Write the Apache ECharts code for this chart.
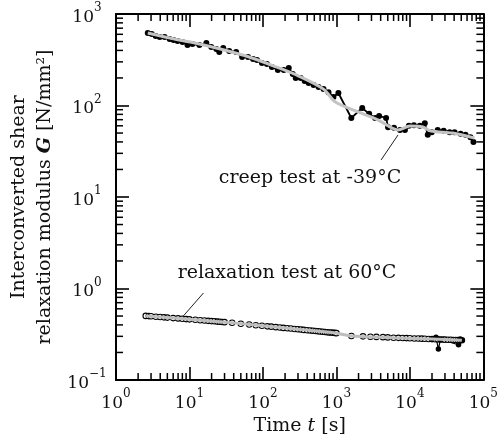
<!DOCTYPE html>
<html>
<head>
<meta charset="utf-8">
<script src="https://cdn.jsdelivr.net/npm/echarts@6/dist/echarts.min.js"></script>
<style>html,body{margin:0;padding:0;background:#fff}#c{width:501px;height:446px}</style>
</head>
<body>
<div id="c"></div>
<script>
// ---- data ----
const creepT = [2.707,3.066,3.472,3.932,4.594,5.366,6.077,6.883,8.043,9.397,10.98,13.65,16.97,19.83,23.17,25.43,28.81,34.72,43.16,52.04,62.7,73.3,82.97,96.9,113.3,132.3,159.5,192.2,224.6,254.3,279.2,326.2,369.5,418.4,489,571.3,667.4,779.7,910.9,1064,1595,2246,2792,3365,3812,4741,5045,6077,7328,8560,9694,11330,13650,15950,17510,19830,23900,28810,34720,40560,48900,57130,66740,73280];
const creepG = [620,604,575,561,561,533,520,507,494,458,470,458,482,436,415,384,425,394,384,339,339,322,314,291,284,264,244,244,257,221,200,200,185,176,168,159,151,140,124,137,73,94,81,73,77,73,58,57,54,54,60,61,60,64,48,51,54,53,51,51,49,48,45,40];
const creepFitT = [2.707,6.26,13.65,29.7,64.7,140.8,306,667,969,1983,3697,6890,10000,14990,19230,38110,75540];
const creepFitG = [620,533,470,404,339,270,210,151,109,85,69.4,54.0,59.7,58.2,52.6,50.0,44.1];
const relaxT = [2.54,2.8,3,3.5,4,4.5,5,6,7,8,9,10,12,14,16,18,20,22,24,26,28,30,
  38,50,65,80,97,115,130,150,170,190,215,240,270,300,330,360,400,440,480,520,560,600,650,700,750,800,850,900,950,1000,
  1600,2300,2900,3500,4300,5000,6000,7000,8000,9000,10000,11500,13000,14500,16000,18000,20000,22000,24000,26000,28000,30000,33000,36000,39000,42000,45000,48000,51000];
const relaxG = [0.502,0.499,0.497,0.492,0.488,0.484,0.481,0.475,0.471,0.467,0.463,0.460,0.455,0.450,0.447,0.443,0.440,0.438,0.435,0.433,0.431,0.429,
  0.422,0.412,0.404,0.397,0.392,0.386,0.383,0.378,0.375,0.371,0.368,0.365,0.361,0.358,0.356,0.353,0.350,0.347,0.345,0.343,0.341,0.339,0.337,0.335,0.333,0.331,0.330,0.328,0.327,0.325,
  0.303,0.300,0.297,0.296,0.294,0.292,0.290,0.289,0.288,0.287,0.286,0.284,0.284,0.283,0.282,0.281,0.280,0.279,0.278,0.277,0.277,0.276,0.275,0.275,0.274,0.274,0.273,0.272,0.272];
const relaxRawT = [20000,22650,24430,26000,45920,48420,51000];
const relaxRawG = [0.280,0.293,0.218,0.277,0.243,0.281,0.272];
const relaxFitT = [2.54,10,30,100,300,1000,1600,6000,20000,51000];
const relaxFitG = [0.502,0.460,0.429,0.392,0.358,0.325,0.303,0.290,0.280,0.272];
const creepLeader = [[6890,47.6],[4055,25.4]];
const relaxLeader = [[15.5,0.893],[8.04,0.489]];
const creepLabel = 'creep test at -39°C';
const relaxLabel = 'relaxation test at 60°C';

const zip = (a,b) => a.map((v,i)=>[v,b[i]]);
const minorX = [], minorY = [];
for (let k=0;k<5;k++) for (let m=2;m<=9;m++) minorX.push([m*Math.pow(10,k),1]);
for (let k=-1;k<3;k++) for (let m=2;m<=9;m++) minorY.push([10,m*Math.pow(10,k)]);

const FONT = 'DejaVu Serif';
function expLabel(v){
  const e = Math.round(Math.log10(v));
  const s = e < 0 ? '\u2212' + (-e) : String(e);
  return '{b|10}{s|' + s + '}';
}
const richLab = {
  b:{fontFamily:FONT,fontSize:17,color:'#111',lineHeight:24,verticalAlign:'bottom'},
  s:{fontFamily:FONT,fontSize:12,color:'#111',lineHeight:14,verticalAlign:'top'}
};
const axisBase = {
  type:'log', logBase:10,
  axisLine:{show:true,lineStyle:{color:'#000',width:2}},
  axisTick:{show:true,inside:true,length:13,lineStyle:{color:'#000',width:1.6}},
  splitLine:{show:false}, minorTick:{show:false}
};

const chart = echarts.init(document.getElementById('c'));
function tickSeries(data, isX){
  return {
    type:'custom', data:data, silent:true, z:5,
    xAxisIndex:0, yAxisIndex:0,
    renderItem:function(params, api){
      const v = isX ? api.value(0) : api.value(1);
      let a,b,ch;
      if (isX){
        a = api.coord([v,0.1]); b = api.coord([v,1000]);
        ch = [{type:'line',shape:{x1:a[0],y1:a[1],x2:a[0],y2:a[1]-7},style:{stroke:'#000',lineWidth:1.5}},
              {type:'line',shape:{x1:b[0],y1:b[1],x2:b[0],y2:b[1]+7},style:{stroke:'#000',lineWidth:1.5}}];
      } else {
        a = api.coord([1,v]); b = api.coord([100000,v]);
        ch = [{type:'line',shape:{x1:a[0],y1:a[1],x2:a[0]+7,y2:a[1]},style:{stroke:'#000',lineWidth:1.5}},
              {type:'line',shape:{x1:b[0],y1:b[1],x2:b[0]-7,y2:b[1]},style:{stroke:'#000',lineWidth:1.5}}];
      }
      return {type:'group',children:ch};
    }
  };
}

chart.setOption({
  animation:false,
  backgroundColor:'#fff',
  grid:{left:116,right:15,top:14,bottom:66,containLabel:false},
  xAxis:[
    Object.assign({}, axisBase, {position:'bottom', min:1, max:100000, splitNumber:5,
      axisLabel:{show:true,margin:8,formatter:expLabel,rich:richLab},
      name:'{n|Time }{i|t}{n| [s]}', nameLocation:'middle', nameGap:36,
      nameTextStyle:{rich:{n:{fontFamily:FONT,fontSize:19,color:'#111'},i:{fontFamily:FONT,fontSize:19,fontStyle:'italic',color:'#111'}}}
    }),
    Object.assign({}, axisBase, {position:'top', min:1, max:100000, splitNumber:5, axisLabel:{show:false}})
  ],
  yAxis:[
    Object.assign({}, axisBase, {position:'left', min:0.1, max:1000, splitNumber:4,
      axisLabel:{show:true,margin:29,align:'center',formatter:expLabel,rich:richLab},
      name:'{n|Interconverted shear}\n{n|relaxation modulus }{i|G}{n| [N/mm²]}', nameLocation:'middle', nameGap:58, nameRotate:90,
      nameTextStyle:{rich:{n:{fontFamily:FONT,fontSize:19,color:'#111',lineHeight:26},i:{fontFamily:FONT,fontSize:19,fontStyle:'italic',fontWeight:'bold',color:'#111',lineHeight:26}}}
    }),
    Object.assign({}, axisBase, {position:'right', min:0.1, max:1000, splitNumber:4, axisLabel:{show:false}})
  ],
  series:[
    tickSeries(minorX,true),
    tickSeries(minorY,false),
    {type:'line', data:zip(relaxT,relaxG), symbol:'circle', symbolSize:5.5, showSymbol:true,
      lineStyle:{color:'#000',width:1}, itemStyle:{color:'#fff',borderColor:'#000',borderWidth:1.1}, z:2,
      markLine:{silent:true,symbol:'none',label:{show:false},lineStyle:{color:'#222',width:1,type:'solid'},
        data:[[{coord:relaxLeader[0]},{coord:relaxLeader[1]}],[{coord:creepLeader[0]},{coord:creepLeader[1]}]]}},
    {type:'line', data:zip(relaxRawT,relaxRawG), symbol:'circle', symbolSize:5.5,
      lineStyle:{color:'#000',width:1.2}, itemStyle:{color:'#000'}, z:2},
    {type:'line', data:zip(relaxFitT,relaxFitG), symbol:'none', smooth:0.3,
      lineStyle:{color:'#bdbdbd',width:3}, z:3},
    {type:'line', data:zip(creepT,creepG), symbol:'circle', symbolSize:6,
      lineStyle:{color:'#000',width:1.8}, itemStyle:{color:'#000'}, z:2},
    {type:'line', data:zip(creepFitT,creepFitG), symbol:'none', smooth:0.3,
      lineStyle:{color:'#c4c4c4',width:3}, z:3}
  ],
  graphic:[
    {type:'text', x:310, y:178, style:{text:creepLabel, font:'19px "DejaVu Serif"', fill:'#111', align:'center', verticalAlign:'middle'}},
    {type:'text', x:287, y:273, style:{text:relaxLabel, font:'19px "DejaVu Serif"', fill:'#111', align:'center', verticalAlign:'middle'}}
  ]
});
</script>
</body>
</html>
